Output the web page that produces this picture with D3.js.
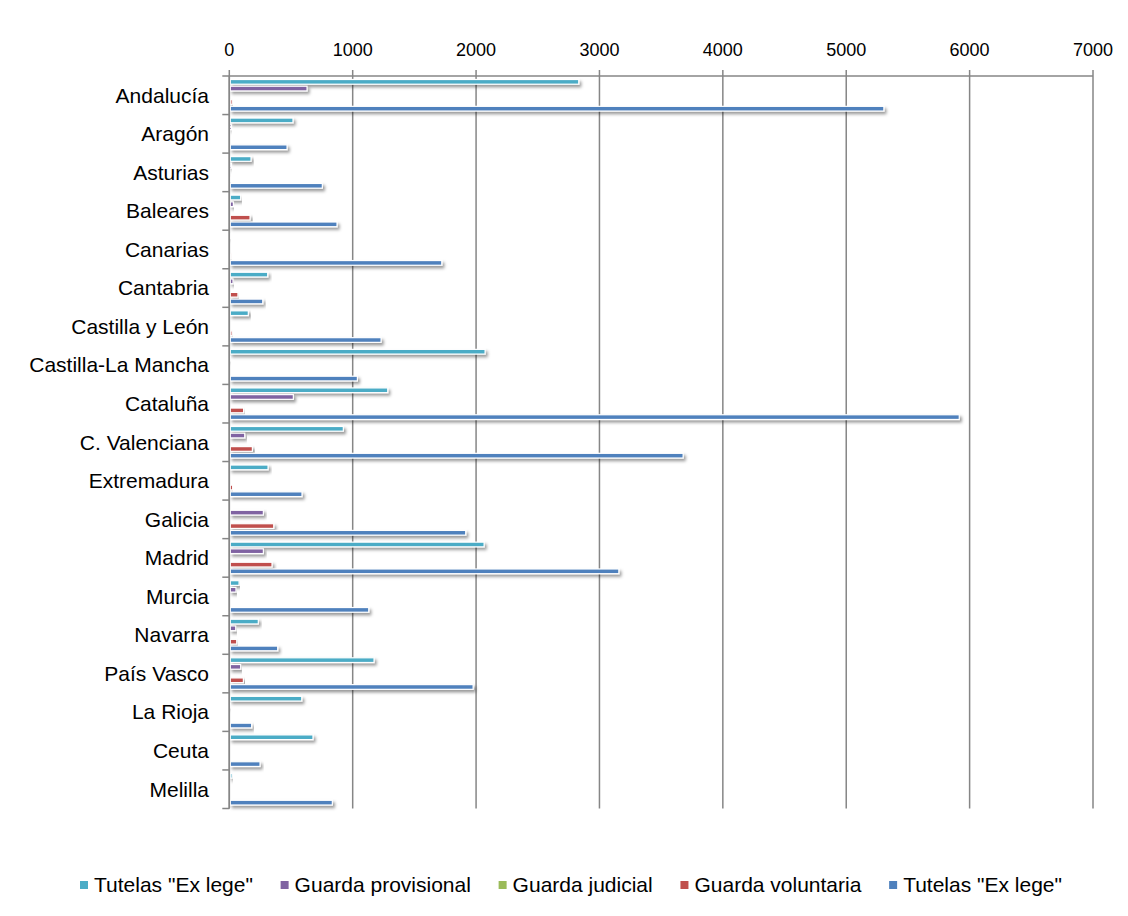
<!DOCTYPE html>
<html>
<head>
<meta charset="utf-8">
<script src="https://cdn.jsdelivr.net/npm/d3@7"></script>
<style>
  html, body { margin: 0; padding: 0; background: #fff; }
  svg { display: block; font-family: "Liberation Sans", Arial, sans-serif; }
</style>
</head>
<body>
<svg id="chart" width="1128" height="916"></svg>
<script>
const categories = ["Andalucía","Aragón","Asturias","Baleares","Canarias","Cantabria","Castilla y León","Castilla-La Mancha","Cataluña","C. Valenciana","Extremadura","Galicia","Madrid","Murcia","Navarra","País Vasco","La Rioja","Ceuta","Melilla"];
const seriesNames = ['Tutelas "Ex lege"', "Guarda provisional", "Guarda judicial", "Guarda voluntaria", 'Tutelas "Ex lege"'];
const tutelasA   = [2824, 508, 168, 84, 3, 303, 146, 2065, 1276, 916, 306, 0, 2057, 71, 227, 1165, 579, 670, 14];
const guardaProv = [622, 10, 10, 25, 0, 22, 0, 5, 511, 117, 0, 268, 268, 46, 44, 84, 5, 0, 0];
const guardaJud  = [0, 0, 0, 0, 0, 0, 0, 0, 0, 0, 0, 0, 0, 0, 0, 0, 0, 0, 0];
const guardaVol  = [15, 0, 5, 160, 8, 62, 14, 0, 108, 179, 19, 352, 338, 0, 52, 106, 0, 0, 0];
const tutelasB   = [5297, 460, 746, 865, 1714, 263, 1222, 1030, 5908, 3670, 581, 1908, 3149, 1122, 384, 1968, 173, 241, 827];
const xTicks = [0, 1000, 2000, 3000, 4000, 5000, 6000, 7000];
const colors = ["#4BACC6", "#8064A2", "#9BBB59", "#C0504D", "#4F81BD"];

const seriesData = [tutelasA, guardaProv, guardaJud, guardaVol, tutelasB];

(function () {
const svg = d3.select("#chart");
const pLeft = 229.3, pRight = 1093, pTop = 76, pBottom = 808.5;

const x = d3.scaleLinear().domain([0, 7000]).range([pLeft, pRight]);
const y = d3.scaleBand().domain(categories).range([pTop, pBottom]).paddingInner(0).paddingOuter(0);
const ySub = d3.scaleBand().domain(d3.range(5)).range([2.5, y.bandwidth() - 2.5]).paddingInner(0.3).paddingOuter(0.15);

const defs = svg.append("defs");
const f = defs.append("filter").attr("id", "shadow").attr("x", "-5%").attr("y", "-100%").attr("width", "115%").attr("height", "400%");
f.append("feDropShadow").attr("dx", 2).attr("dy", 2.5).attr("stdDeviation", 1.6).attr("flood-color", "#000").attr("flood-opacity", 0.4);

// gridlines
svg.append("g").selectAll("line").data(xTicks).join("line")
  .attr("x1", d => x(d)).attr("x2", d => x(d))
  .attr("y1", pTop - 6).attr("y2", pBottom)
  .attr("stroke", "#868686").attr("stroke-width", 1.5);

// top axis line
svg.append("line").attr("x1", pLeft).attr("x2", pRight).attr("y1", pTop).attr("y2", pTop)
  .attr("stroke", "#868686").attr("stroke-width", 1.5);

// tick labels
svg.append("g").selectAll("text").data(xTicks).join("text")
  .attr("x", d => x(d)).attr("y", 56)
  .attr("text-anchor", "middle").attr("font-size", 18).attr("fill", "#000")
  .text(d => d);

// bars
const groups = svg.append("g").selectAll("g").data(categories).join("g")
  .attr("transform", d => `translate(0,${y(d)})`);
seriesData.forEach((vals, si) => {
  groups.append("rect")
    .attr("x", x(0) + 1)
    .attr("y", ySub(si))
    .attr("width", (d, i) => Math.max(0, x(vals[i]) - x(0)))
    .attr("height", ySub.bandwidth())
    .attr("fill", colors[si])
    .attr("stroke", "#fff").attr("stroke-width", 1.2)
    .attr("filter", "url(#shadow)")
    .attr("display", (d, i) => vals[i] > 0 ? null : "none");
});

// left axis
svg.append("line").attr("x1", pLeft).attr("x2", pLeft).attr("y1", pTop).attr("y2", pBottom)
  .attr("stroke", "#868686").attr("stroke-width", 1.5);
const bounds = categories.map(c => y(c)).concat([pBottom]);
svg.append("g").selectAll("line").data(bounds).join("line")
  .attr("x1", pLeft - 7).attr("x2", pLeft).attr("y1", d => d).attr("y2", d => d)
  .attr("stroke", "#868686").attr("stroke-width", 1.5);

// category labels
svg.append("g").selectAll("text").data(categories).join("text")
  .attr("x", 209).attr("y", d => y(d) + y.bandwidth() / 2)
  .attr("dy", "0.35em").attr("text-anchor", "end")
  .attr("font-size", 21).attr("fill", "#000")
  .text(d => d);

// legend
const legend = svg.append("g");
const items = legend.selectAll("g").data(seriesNames).join("g");
items.append("rect").attr("width", 8).attr("height", 8).attr("y", -11)
  .attr("fill", (d, i) => colors[i]);
items.append("text").attr("x", 14).attr("y", 0).attr("font-size", 21).attr("fill", "#000")
  .text(d => d);
const widths = [];
items.each(function() { widths.push(14 + d3.select(this).select("text").node().getComputedTextLength()); });
const gap = (1062 - 80 - d3.sum(widths)) / (widths.length - 1);
let start = 80;
items.attr("transform", (d, i) => {
  const t = `translate(${start},892)`;
  start += widths[i] + gap;
  return t;
});
})();
</script>
</body>
</html>
